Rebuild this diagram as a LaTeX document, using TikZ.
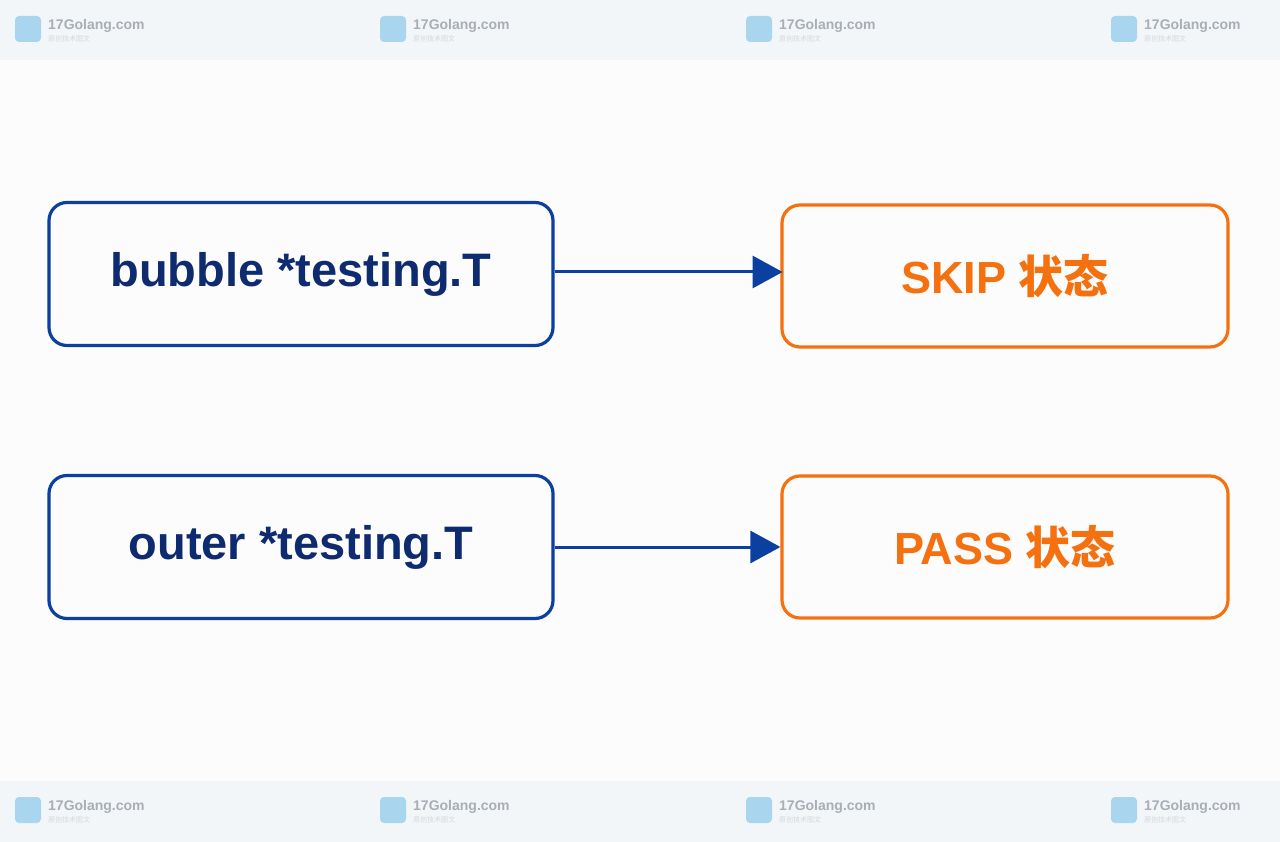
\documentclass[tikz,border=0pt]{standalone}
\usepackage{fontspec}
\setmainfont{Liberation Sans}
\newfontfamily\cjk{Noto Sans CJK SC}
\usetikzlibrary{arrows.meta}
\definecolor{bbl}{HTML}{0B3FA0}
\definecolor{btx}{HTML}{0D2B6E}
\definecolor{org}{HTML}{F5700F}
\definecolor{band}{HTML}{F3F6F9}
\definecolor{wm}{HTML}{A9AEB6}
\definecolor{icn}{HTML}{A9D6EE}
\begin{document}
\begin{tikzpicture}[x=1pt,y=-1pt,
 bx/.style={draw=bbl,line width=3.2pt,rounded corners=18pt,minimum width=504pt,minimum height=143pt,text=btx,font=\fontsize{47}{52}\selectfont\bfseries},
 ox/.style={draw=org,line width=3.2pt,rounded corners=18pt,minimum width=446pt,minimum height=142pt,text=org,font=\fontsize{45}{52}\selectfont\bfseries},
 ar/.style={draw=bbl,line width=3pt,-{Triangle[length=30pt,width=32pt]}},
 wmk/.style={text=wm,font=\fontsize{14}{16}\selectfont\bfseries,anchor=west,inner sep=0pt}]
\fill[white!98!gray] (0,0) rectangle (1280,842);
\fill[band] (0,0) rectangle (1280,60);
\fill[band] (0,781) rectangle (1280,842);
\foreach \xx [count=\i] in {15,380,746,1111}{
 \foreach \yy [count=\j] in {29,810}{
  \node[fill=icn,rounded corners=4pt,minimum size=26pt,inner sep=0pt] (ic\i\j) at (\xx+13,\yy) {};
  \node[wmk] (wt\i\j) at (\xx+33,\yy-3) {17Golang.com};
  \node[wmk,text=wm!50,font=\fontsize{7}{8}\selectfont\cjk] (ws\i\j) at (\xx+33,\yy+10) {原创技术图文};
 }}
\node[bx] (a) at (301,274) {bubble *testing.T};
\node[ox] (b) at (1005,276) {SKIP {\cjk\bfseries 状态}};
\node[bx] (c) at (301,547) {outer *testing.T};
\node[ox] (d) at (1005,547) {PASS {\cjk\bfseries 状态}};
\draw[ar] (a.east) ++(0,-2) -- ++(228,0);
\draw[ar] (c.east) -- (c.east -| d.west);
\end{tikzpicture}
\end{document}
